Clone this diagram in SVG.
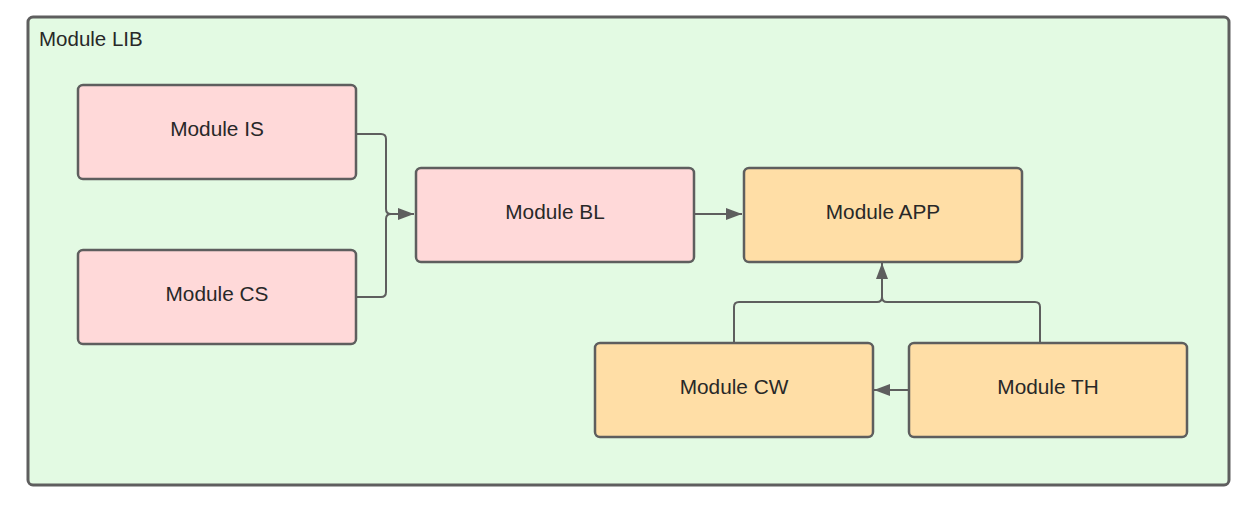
<svg xmlns="http://www.w3.org/2000/svg" width="1258" height="505" viewBox="0 0 1258 505">
<defs>
<marker id="ah" viewBox="0 0 16 12" refX="16" refY="6" markerWidth="16" markerHeight="12" markerUnits="userSpaceOnUse" orient="auto">
<path d="M0,0 L16,6 L0,12 Z" fill="#5e5e5e"/>
</marker>
<style>
.box{stroke:#5e5e5e;stroke-width:2.5}
.pink{fill:#ffd9d9}
.orange{fill:#ffdea6}
.lbl{font-family:"Liberation Sans",Arial,sans-serif;font-size:20.8px;fill:#282828;text-anchor:middle;dominant-baseline:central}
.conn{fill:none;stroke:#5e5e5e;stroke-width:2}
</style>
</defs>
<rect width="1258" height="505" fill="#ffffff"/>
<g id="lib">
<rect x="28" y="17" width="1201" height="468" rx="5" fill="#e3fae3" stroke="#5e5e5e" stroke-width="3"/>
<text x="39" y="38" style="font-family:'Liberation Sans',Arial,sans-serif;font-size:20.5px;fill:#282828;dominant-baseline:central">Module LIB</text>
</g>
<g id="connectors">
<path class="conn" d="M356,134 H381 Q386,134 386,139 V209 Q386,214 391,214 H414" marker-end="url(#ah)"/>
<path class="conn" d="M356,297 H381 Q386,297 386,292 V219 Q386,214 391,214"/>
<path class="conn" d="M694,214 H742" marker-end="url(#ah)"/>
<path class="conn" d="M734,343 V307 Q734,302 739,302 H877 Q882,302 882,297 V263" marker-end="url(#ah)"/>
<path class="conn" d="M1040,343 V307 Q1040,302 1035,302 H887 Q882,302 882,297"/>
<path class="conn" d="M909,390 H874" marker-end="url(#ah)"/>
</g>
<g id="is">
<rect class="box pink" x="78" y="85" width="278" height="94" rx="5"/>
<text class="lbl" x="217" y="128">Module IS</text>
</g>
<g id="cs">
<rect class="box pink" x="78" y="250" width="278" height="94" rx="5"/>
<text class="lbl" x="217" y="293">Module CS</text>
</g>
<g id="bl">
<rect class="box pink" x="416" y="168" width="278" height="94" rx="5"/>
<text class="lbl" x="555" y="211">Module BL</text>
</g>
<g id="app">
<rect class="box orange" x="744" y="168" width="278" height="94" rx="5"/>
<text class="lbl" x="883" y="211">Module APP</text>
</g>
<g id="cw">
<rect class="box orange" x="595" y="343" width="278" height="94" rx="5"/>
<text class="lbl" x="734" y="386">Module CW</text>
</g>
<g id="th">
<rect class="box orange" x="909" y="343" width="278" height="94" rx="5"/>
<text class="lbl" x="1048" y="386">Module TH</text>
</g>
</svg>
